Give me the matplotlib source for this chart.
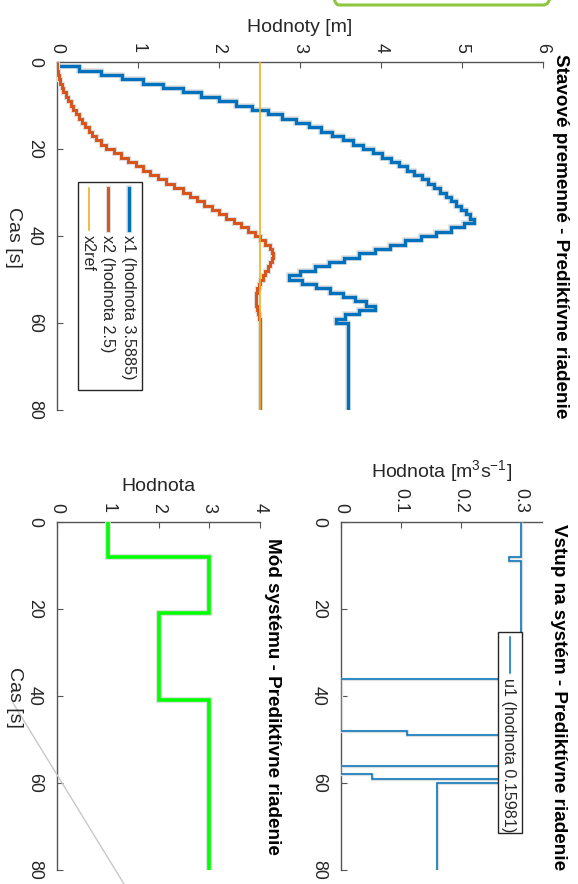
import numpy as np
import matplotlib
matplotlib.use("Agg")
import matplotlib.pyplot as plt
import matplotlib.patheffects as pe
from matplotlib.patches import Rectangle, FancyBboxPatch
from matplotlib.lines import Line2D

plt.rcParams["font.family"] = ["Liberation Sans", "DejaVu Sans"]
plt.rcParams["mathtext.fontset"] = "custom"
plt.rcParams["mathtext.rm"] = "Liberation Sans"
plt.rcParams["mathtext.it"] = "Liberation Sans:italic"

# ---- data -------------------------------------------------------------
Ts = 1.0
t_end = 80
t_edges = np.arange(0, t_end + Ts, Ts)          # sample instants 0..80 s

# tank levels, one value per sample interval [k, k+1)
x1 = [0.00, 0.27, 0.54, 0.80, 1.06, 1.31, 1.55, 1.78, 2.00, 2.21,
      2.41, 2.60, 2.78, 2.95, 3.11, 3.26, 3.40, 3.53, 3.66, 3.78,
      3.90, 4.01, 4.12, 4.22, 4.32, 4.41, 4.50, 4.58, 4.66, 4.73,
      4.80, 4.87, 4.93, 4.99, 5.05, 5.10, 5.15, 5.02, 4.87, 4.68,
      4.49, 4.30, 4.11, 3.92, 3.73, 3.54, 3.36, 3.18, 3.00, 2.86,
      3.03, 3.20, 3.37, 3.53, 3.68, 3.81, 3.92, 3.73, 3.55, 3.44] + [3.5885] * 20
x2 = [0.00, 0.00, 0.01, 0.02, 0.04, 0.06, 0.08, 0.11, 0.14, 0.17,
      0.20, 0.23, 0.27, 0.31, 0.35, 0.39, 0.43, 0.48, 0.54, 0.61,
      0.70, 0.79, 0.88, 0.97, 1.06, 1.15, 1.25, 1.35, 1.45, 1.55,
      1.64, 1.73, 1.82, 1.91, 2.00, 2.09, 2.18, 2.27, 2.36, 2.44,
      2.50, 2.57, 2.63, 2.66, 2.67, 2.66, 2.63, 2.60, 2.57, 2.54,
      2.51, 2.49, 2.47, 2.46, 2.46, 2.46, 2.47, 2.48, 2.49, 2.50] + [2.5] * 20
x2_ref = 2.5
x1_final = 3.5885
x2_final = 2.5

# pump inflow (piecewise constant)
u_edges = [0, 8, 9, 36, 48, 49, 56, 58, 59, 60, 80]
u1 = [0.30, 0.28, 0.30, 0.0, 0.11, 0.30, 0.0, 0.052, 0.30, 0.15981]

# active mode of the hybrid system
mode_edges = [0, 8, 21, 41, 80]
mode = [1, 3, 2, 3]

t_ticks = [0, 20, 40, 60, 80]
x_ticks = [0, 1, 2, 3, 4, 5, 6]
u_ticks = [0, 0.1, 0.2, 0.3]
m_ticks = [0, 1, 2, 3, 4]

# ---- figure (time runs downwards, values to the right) -----------------
W, H = 578, 884
fig = plt.figure(figsize=(W / 100, H / 100), dpi=100)


def fbox(x0, y0, x1_, y1_):
    return [x0 / W, 1 - y1_ / H, (x1_ - x0) / W, (y1_ - y0) / H]


def fp(x, y):
    return x / W, 1 - y / H


AX_C = "#555555"
TXT_C = "#262626"


def halo(lw):
    return [pe.Stroke(linewidth=lw + 1.6, foreground="#dedede"), pe.Normal()]


def style(ax, vmax, vticks, vlabels=None):
    ax.set_xlim(0, vmax)
    ax.set_ylim(t_end, 0)
    ax.xaxis.tick_top()
    ax.set_xticks(vticks)
    if vlabels is not None:
        ax.set_xticklabels(vlabels)
    ax.set_yticks(t_ticks)
    for s in ("right", "bottom"):
        ax.spines[s].set_visible(False)
    for s in ("left", "top"):
        ax.spines[s].set_color(AX_C)
        ax.spines[s].set_linewidth(1.0)
    ax.tick_params(axis="x", direction="in", length=4, pad=6.5, labelsize=12.9,
                   color=AX_C, labelcolor=TXT_C, labelrotation=-90)
    ax.tick_params(axis="y", direction="in", length=4, pad=10, labelsize=12.9,
                   color=AX_C, labelcolor=TXT_C, labelrotation=-90)
    for lab in ax.get_yticklabels():
        lab.set_verticalalignment("center")
    ax.patch.set_alpha(0)


ax_s = fig.add_axes(fbox(57, 62, 543, 410))
ax_u = fig.add_axes(fbox(341, 522, 542, 870))
ax_m = fig.add_axes(fbox(57, 522, 260, 870))

style(ax_s, 6, x_ticks)
style(ax_u, 0.335, u_ticks, ["0", "0.1", "0.2", "0.3"])
style(ax_m, 4, m_ticks)

# state variables
c1, c2, cr = "#0072BD", "#D95319", "#EDB120"
ax_s.stairs(x1, t_edges, orientation="horizontal", baseline=None, color=c1,
            lw=2.4, path_effects=halo(2.4), zorder=3)
ax_s.stairs(x2, t_edges, orientation="horizontal", baseline=None, color=c2,
            lw=2.1, path_effects=halo(2.1), zorder=3)
ax_s.plot(np.full(2, x2_ref), [t_edges[0], t_edges[-1]], color=cr, lw=1.2, zorder=4)

# input
ax_u.stairs(u1, u_edges, orientation="horizontal", baseline=None, color=c1,
            lw=1.1, path_effects=halo(0.8), zorder=3)

# mode
ax_m.stairs(mode, mode_edges, orientation="horizontal", baseline=None,
            color="#00FF00", lw=2.6, path_effects=halo(2.6), zorder=3)

# ---- texts -----------------------------------------------------------
fig.text(*fp(300, 27), "Hodnoty [m]", ha="center", va="center", fontsize=14, color=TXT_C)
fig.text(*fp(13.5, 237), "Cas [s]", ha="center", va="center", fontsize=14,
         color=TXT_C, rotation=-90)
fig.text(*fp(560, 236), "Stavové premenné - Prediktívne riadenie", ha="center",
         va="center", fontsize=13.6, fontweight="bold", rotation=-90)

fig.text(*fp(442, 471), "Hodnota [m$^3$s$^{-1}$]", ha="center", va="center",
         fontsize=14, color=TXT_C)
fig.text(*fp(558, 697), "Vstup na systém - Prediktívne riadenie", ha="center",
         va="center", fontsize=13.6, fontweight="bold", rotation=-90)

fig.text(*fp(158, 486), "Hodnota", ha="center", va="center", fontsize=14, color=TXT_C)
fig.text(*fp(14.5, 697), "Cas [s]", ha="center", va="center", fontsize=14,
         color=TXT_C, rotation=-90)
fig.text(*fp(272, 696), "Mód systému - Prediktívne riadenie", ha="center",
         va="center", fontsize=13.6, fontweight="bold", rotation=-90)

# ---- legends (drawn rotated) ----------------------------------------
def legend_box(x0, y0, x1_, y1_):
    fx0, fy1 = fp(x0, y0)
    fx1, fy0 = fp(x1_, y1_)
    fig.add_artist(Rectangle((fx0, fy0), fx1 - fx0, fy1 - fy0, transform=fig.transFigure,
                             fc="white", ec=TXT_C, lw=1.0, zorder=5))


def legend_entry(x, y0, y1_, color, lw, label, path_eff=None):
    fig.add_artist(Line2D([x / W, x / W], [1 - y0 / H, 1 - y1_ / H], color=color, lw=lw,
                          transform=fig.transFigure, zorder=6, path_effects=path_eff))
    fig.text(*fp(x - 1, y1_ + 5), label, ha="center", va="top", rotation=-90,
             fontsize=11.6, color=TXT_C, zorder=6)


legend_box(78, 182, 142, 390)
legend_entry(129, 188, 230, c1, 2.4, "x1 (hodnota %.5g)" % x1_final, halo(2.4))
legend_entry(108, 188, 230, c2, 2.1, "x2 (hodnota %.5g)" % x2_final, halo(2.1))
legend_entry(89, 188, 230, cr, 1.2, "x2ref")

legend_box(498, 632, 522, 833)
legend_entry(510, 637, 673, c1, 1.1, "u1 (hodnota %.5g)" % u1[-1])

# ---- decorations around the panels ----------------------------------
fig.add_artist(Line2D([13 / W, 124 / W], [1 - 703 / H, 0.0], color="#c8c8c8", lw=1.0,
                      transform=fig.transFigure))
gx0, gy0 = fp(332, 5)
fig.add_artist(FancyBboxPatch((gx0, gy0), (550 - 332) / W, 40 / H,
                              boxstyle="round,pad=0,rounding_size=0.012",
                              transform=fig.transFigure, fc="none", ec="#8dc63f", lw=2.2,
                              clip_on=False))

fig.savefig("out.png", dpi=100)
